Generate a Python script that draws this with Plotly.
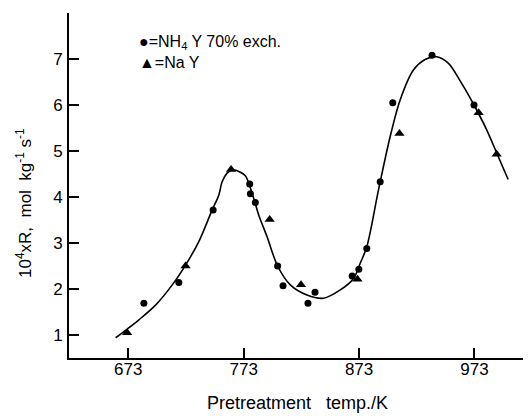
import plotly.graph_objects as go

# NH4Y 70% exchanged (circles)
nh4_temp = [686.5, 716.8, 746.5, 778.2, 778.8, 783.1, 802.4, 807.1, 828.7, 834.8, 867.0, 872.8, 879.7, 891.3, 902.2, 936.2, 972.6]
nh4_rate = [1.69, 2.14, 3.72, 4.28, 4.07, 3.88, 2.50, 2.07, 1.69, 1.93, 2.28, 2.43, 2.88, 4.33, 6.05, 7.08, 6.00]

# NaY (triangles)
na_temp = [672.0, 722.6, 762.1, 795.5, 822.7, 871.6, 908.0, 976.6, 992.2]
na_rate = [1.05, 2.50, 4.60, 3.51, 2.09, 2.21, 5.38, 5.83, 4.93]

# hand-drawn curve through the points
curve_temp = [662.0, 672.1, 682.2, 696.6, 711.1, 722.6, 734.1, 745.7, 751.4, 754.3, 758.6, 763.0,
              770.1, 774.5, 777.4, 781.7, 786.0, 793.2, 802.4, 813.4, 827.8, 842.2, 856.7,
              868.2, 874.0, 879.7, 889.8, 899.9, 908.6, 920.1, 930.2, 940.3, 950.3, 961.9,
              972.6, 983.6, 993.6, 1002.2]
curve_rate = [0.94, 1.13, 1.33, 1.65, 2.09, 2.52, 3.03, 3.72, 4.04, 4.33, 4.52, 4.59,
              4.54, 4.46, 4.30, 3.97, 3.61, 3.14, 2.50, 2.09, 1.87, 1.80, 1.98,
              2.23, 2.56, 2.92, 4.15, 5.31, 6.11, 6.76, 6.99, 7.05, 6.91, 6.47,
              6.00, 5.46, 4.88, 4.38]

x_ticks = [673, 773, 873, 973]
y_ticks = [1, 2, 3, 4, 5, 6, 7]

FONT = "Liberation Sans"

fig = go.Figure()
fig.add_trace(go.Scatter(x=curve_temp, y=curve_rate, mode="lines",
                         line=dict(color="black", width=1.6, shape="spline", smoothing=0.9),
                         showlegend=False, hoverinfo="skip"))
fig.add_trace(go.Scatter(x=nh4_temp, y=nh4_rate, mode="markers",
                         marker=dict(symbol="circle", size=7, color="black"),
                         showlegend=False))
fig.add_trace(go.Scatter(x=na_temp, y=na_rate, mode="markers",
                         marker=dict(symbol="triangle-up", size=9, color="black"),
                         showlegend=False))

axis_common = dict(showgrid=False, zeroline=False, showline=True, linecolor="black",
                   linewidth=2, ticks="inside", ticklen=10, tickwidth=1.5, tickcolor="black",
                   tickfont=dict(family=FONT, size=17, color="black"))

fig.update_xaxes(range=[621.6, 1022], tickvals=x_ticks, ticktext=[str(v) for v in x_ticks],
                 ticklabelstandoff=-5, **axis_common)
fig.update_yaxes(range=[0.5, 8], tickvals=y_ticks, ticktext=[str(v) for v in y_ticks],
                 ticklabelstandoff=1, **axis_common)

# page has an 8px body margin: the figure is shifted by 8px right and down
OX, OY = 8, 8
L, T, B = 69 - OX, 13 - OY, 58
PW, PH = 462, 345

annotations = [
    dict(text="\u25cf=NH<sub>4</sub> Y 70% exch.", xref="paper", yref="paper",
         x=(137 - 69) / PW, y=(358 - 42) / PH, xanchor="left", yanchor="middle",
         showarrow=False, font=dict(family=FONT, size=16, color="black")),
    dict(text="\u25b2=Na Y", xref="paper", yref="paper",
         x=(137 - 69) / PW, y=(358 - 63) / PH, xanchor="left", yanchor="middle",
         showarrow=False, font=dict(family=FONT, size=16, color="black")),
    dict(text="10<sup>4</sup>xR,  mol  kg<sup>-1</sup> s<sup>-1</sup>", xref="paper", yref="paper",
         x=(24 - 69) / PW, y=(358 - 203) / PH, xanchor="center", yanchor="middle",
         textangle=-90, showarrow=False, font=dict(family=FONT, size=17, color="black")),
    dict(text="Pretreatment   temp./K", xref="paper", yref="paper",
         x=(297 - 69) / PW, y=(358 - 403) / PH, xanchor="center", yanchor="middle",
         showarrow=False, font=dict(family=FONT, size=18, color="black")),
]

fig.update_layout(width=L + PW, height=T + PH + B, margin=dict(l=L, r=0, t=T, b=B),
                  plot_bgcolor="white", paper_bgcolor="white", annotations=annotations)

fig.write_html("out.html")
